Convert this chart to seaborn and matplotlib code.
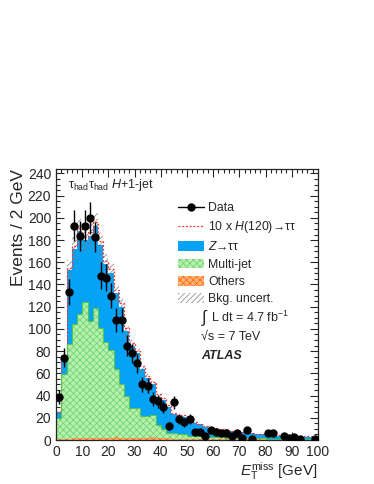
import numpy as np
import pandas as pd
import matplotlib
matplotlib.use("Agg")
import matplotlib.pyplot as plt
from matplotlib.lines import Line2D
from matplotlib.patches import Patch
from matplotlib.ticker import MultipleLocator
import seaborn as sns

# binning: 50 bins of 2 GeV
edges = np.arange(0, 102, 2)
centers = edges[:-1] + 1

# observed events per bin (0 = empty bin, not drawn)
data = [39, 74, 133, 193, 184, 193, 200, 183, 148, 146,
        130, 108, 108, 85, 78, 69, 50, 49, 37, 35,
        30, 13, 34, 19, 16, 19, 7, 7, 4, 9,
        7, 6, 6, 4, 6, 2, 9, 1, 0, 0,
        6, 6, 0, 4, 2, 3, 1, 0, 0, 1]

# total background (top of the stack)
total_bkg = [25, 72, 153, 172, 188, 180, 184, 193, 176, 158,
             150, 132, 120, 98, 85, 78, 64, 56, 50, 39,
             36, 30, 23, 21, 21, 18, 15, 14, 12, 11,
             10, 9, 9, 8, 7, 7, 6, 6, 5, 5,
             6, 5, 4, 4, 4, 3, 3, 3, 3, 3]

multijet = [19, 58, 85, 103, 112, 123, 106, 117, 99, 87,
            79, 61, 48, 38, 27, 27, 20, 20, 20, 12,
            8, 5, 5, 4, 4, 3, 3, 2.5, 2, 2,
            2, 1.5, 1.5, 1.5, 1, 1, 1, 1, 1, 1,
            0.8, 0.8, 0.8, 0.5, 0.5, 0.5, 0.5, 0.5, 0.3, 0.3]

others = [0.5, 1, 1, 1.5, 1.5, 1.5, 1.5, 1.5, 1.5, 1.5,
          2, 3, 2, 1.5, 1.5, 2, 1.5, 1.5, 2.5, 1.5,
          1.5, 1.5, 1, 1, 1, 1, 1, 1, 0.8, 0.8,
          0.8, 0.8, 0.6, 0.6, 0.6, 0.5, 0.5, 0.5, 0.5, 0.5,
          0.4, 0.4, 0.4, 0.3, 0.3, 0.3, 0.3, 0.3, 0.3, 0.3]

# 10 x H(120) -> tautau, stacked on top of the background
signal_x10 = [0.3, 1, 2, 2.5, 3, 3, 3.5, 3.5, 3.5, 3.5,
              3.5, 3, 3, 3, 2.5, 2.5, 2.5, 2, 2, 2,
              1.8, 1.6, 1.4, 1.2, 1.1, 1, 0.9, 0.8, 0.7, 0.6,
              0.6, 0.5, 0.5, 0.4, 0.4, 0.4, 0.3, 0.3, 0.3, 0.3,
              0.3, 0.2, 0.2, 0.2, 0.2, 0.2, 0.2, 0.2, 0.2, 0.2]

rel_unc = 0.06

df = pd.DataFrame({
    "met": centers,
    "data": data,
    "total": total_bkg,
    "mj": multijet,
    "oth": others,
    "sig": signal_x10,
})
df["ztt"] = df["total"] - df["mj"] - df["oth"]
df["mj_oth"] = df["mj"] + df["oth"]

sns.set_style("ticks")
plt.rcParams["font.family"] = ["Liberation Sans", "DejaVu Sans"]
plt.rcParams["mathtext.fontset"] = "custom"
plt.rcParams["mathtext.rm"] = "Liberation Sans"
plt.rcParams["mathtext.it"] = "Liberation Sans:italic"
plt.rcParams["mathtext.bf"] = "Liberation Sans:bold"
plt.rcParams["hatch.linewidth"] = 0.5

blue = "#05a2f5"
green_face = "#b6f0ae"
green_edge = "#6bd06b"
orange_face = "#ffb27a"
orange_edge = "#ff6600"

fig = plt.figure(figsize=(3.74, 4.84), dpi=100)
ax = fig.add_axes([0.150, 0.0909, 0.700, 0.560])

hist_kw = dict(data=df, x="met", binwidth=2, binrange=(0, 100), element="step", ax=ax)

# stacked background, drawn back to front
sns.histplot(weights="total", fill=True, color=blue, alpha=1, linewidth=0, **hist_kw)
sns.histplot(weights="mj_oth", fill=True, facecolor=green_face, edgecolor=green_edge,
             alpha=1, linewidth=0, hatch="xxxxx", **hist_kw)
sns.histplot(weights="mj_oth", fill=False, color="#55c455", linewidth=0.8, **hist_kw)
sns.histplot(weights="oth", fill=True, facecolor=orange_face, edgecolor=orange_edge,
             alpha=1, linewidth=0, hatch="xxxxx", **hist_kw)

# background uncertainty band
tot = np.append(df["total"].values, df["total"].values[-1])
ax.fill_between(edges, tot * (1 - rel_unc), tot * (1 + rel_unc), step="post",
                facecolor="none", edgecolor="#808080", hatch="//////", linewidth=0)

# signal on top of stack
ax.stairs(df["total"] + df["sig"], edges, baseline=None, color="#ff3030",
          linestyle=(0, (1.5, 1.5)), linewidth=0.9)

# data
pts = df[df["data"] > 0]
ax.errorbar(pts["met"], pts["data"], yerr=np.sqrt(pts["data"]),
            fmt="o", color="black", ms=5, elinewidth=1, capsize=0, zorder=5)

ax.set_xlim(0, 100)
ax.set_ylim(0, 244)
ax.xaxis.set_major_locator(MultipleLocator(10))
ax.xaxis.set_minor_locator(MultipleLocator(2))
ax.yaxis.set_major_locator(MultipleLocator(20))
ax.yaxis.set_minor_locator(MultipleLocator(5))
ax.tick_params(which="both", direction="in", top=True, right=True, labelsize=10)
ax.tick_params(which="major", length=6, width=0.8)
ax.tick_params(which="minor", length=3, width=0.8)
for s in ax.spines.values():
    s.set_linewidth(0.9)

ax.set_xlabel(r"$E_{\mathrm{T}}^{\mathrm{miss}}$ [GeV]", loc="right", fontsize=11, labelpad=1)
ax.set_ylabel("Events / 2 GeV", loc="top", fontsize=12.5, labelpad=1)

ax.text(0.045, 0.942, r"τ$_{\mathrm{had}}$τ$_{\mathrm{had}}$ $H$+1-jet",
        transform=ax.transAxes, fontsize=9, va="center", ha="left")

handles = [
    Line2D([], [], color="black", marker="o", ms=5, lw=1),
    Line2D([], [], color="#ff3030", linestyle=(0, (1.5, 1.5)), lw=0.9),
    Patch(facecolor=blue, edgecolor="none"),
    Patch(facecolor=green_face, edgecolor=green_edge, hatch="xxxxx", lw=0),
    Patch(facecolor=orange_face, edgecolor=orange_edge, hatch="xxxxx", lw=0),
    Patch(facecolor="white", edgecolor="#808080", hatch="//////", lw=0),
]
labels = ["Data", r"10 x $H$(120)→ττ", r"$Z$→ττ",
          "Multi-jet", "Others", "Bkg. uncert."]
ax.legend(handles, labels, loc="upper left", bbox_to_anchor=(0.465, 0.878),
          frameon=False, fontsize=8.8, borderpad=0, borderaxespad=0,
          handlelength=2.1, handleheight=0.85, handletextpad=0.4, labelspacing=0.42)

ax.text(0.555, 0.452, r"$\int$", transform=ax.transAxes, fontsize=12,
        va="center", ha="left")
ax.text(0.590, 0.452, r"L dt = 4.7 fb$^{\mathregular{-1}}$", transform=ax.transAxes,
        fontsize=9, va="center", ha="left")
ax.text(0.555, 0.38, "√s = 7 TeV", transform=ax.transAxes,
        fontsize=9, va="center", ha="left")
ax.text(0.555, 0.31, "ATLAS", transform=ax.transAxes, fontsize=9,
        fontweight="bold", fontstyle="italic", va="center", ha="left")

fig.savefig("out.png", dpi=100)
